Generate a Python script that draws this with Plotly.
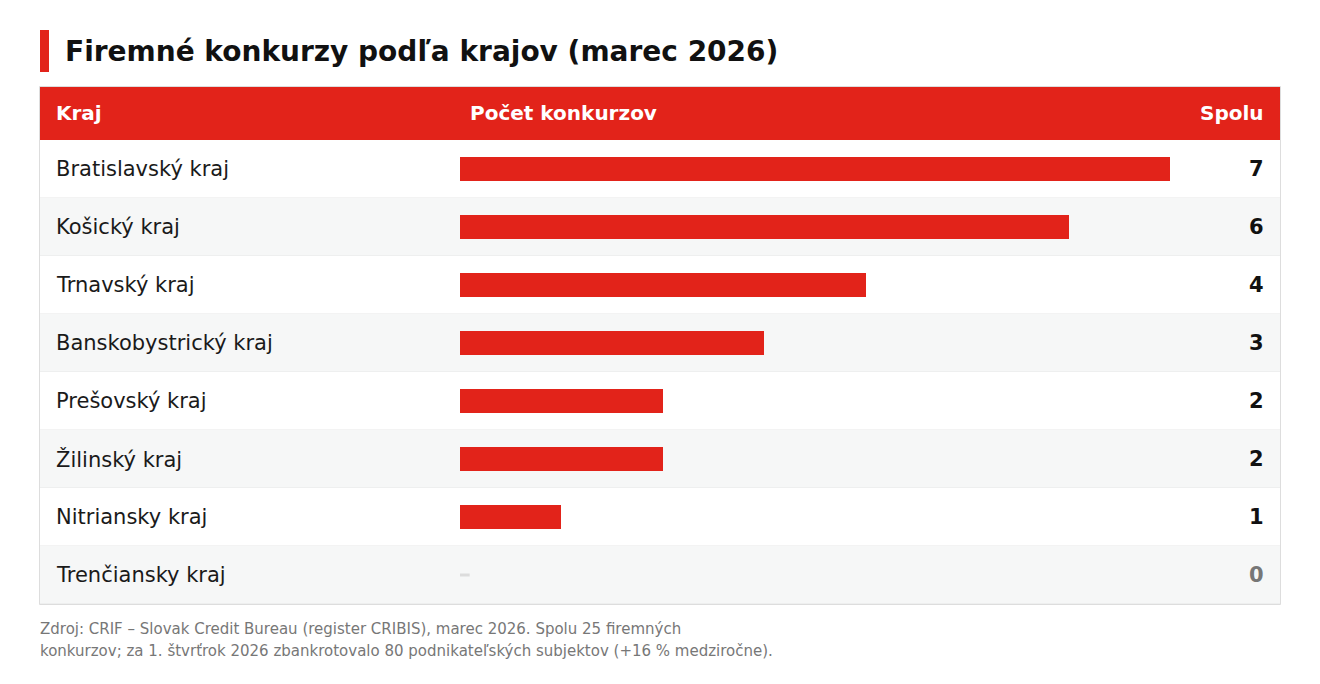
import plotly.graph_objects as go

W, H = 1320, 684

regions = ["Bratislavský kraj", "Košický kraj", "Trnavský kraj", "Banskobystrický kraj",
           "Prešovský kraj", "Žilinský kraj", "Nitriansky kraj", "Trenčiansky kraj"]
counts = [7, 6, 4, 3, 2, 2, 1, 0]

title = "Firemné konkurzy podľa krajov (marec 2026)"
headers = ["Kraj", "Počet konkurzov", "Spolu"]
footer_lines = ["Zdroj: CRIF – Slovak Credit Bureau (register CRIBIS), marec 2026. Spolu 25 firemných",
                "konkurzov; za 1. štvrťrok 2026 zbankrotovalo 80 podnikateľských subjektov (+16 % medziročne)."]

RED = "#e2231a"
FONT = "DejaVu Sans"

def px(x):
    return x / W

def py(y):
    return 1 - y / H

T_LEFT, T_RIGHT = 40, 1280
HEAD_TOP, HEAD_BOT = 87, 140
ROW_H = 58
n = len(regions)
T_BOT = HEAD_BOT + ROW_H * n
BAR_X0, BAR_X7 = 460, 1170

fig = go.Figure()

# bars
pos = [(r, v) for r, v in zip(regions, counts) if v > 0]
fig.add_trace(go.Bar(
    x=[v for _, v in pos], y=[r for r, _ in pos], orientation="h",
    marker=dict(color=RED, line=dict(width=0)), width=24 / ROW_H,
    hoverinfo="x+y", showlegend=False))
zero = [r for r, v in zip(regions, counts) if v == 0]
fig.add_trace(go.Scatter(
    x=[0.04] * len(zero), y=zero, mode="markers",
    marker=dict(symbol="line-ew", size=8, line=dict(width=3, color="#dcdcdc")),
    hoverinfo="skip", showlegend=False))

shapes = []
# title accent
shapes.append(dict(type="rect", xref="paper", yref="paper", x0=px(40), x1=px(49), y0=py(72), y1=py(30),
                   fillcolor=RED, line=dict(width=0), layer="below"))
# row backgrounds
for i in range(n):
    y0 = HEAD_BOT + ROW_H * i
    shapes.append(dict(type="rect", xref="paper", yref="paper", x0=px(T_LEFT), x1=px(T_RIGHT),
                       y0=py(y0 + ROW_H), y1=py(y0),
                       fillcolor="#f6f7f7" if i % 2 == 1 else "#ffffff", line=dict(width=0), layer="below"))
    shapes.append(dict(type="line", xref="paper", yref="paper", x0=px(T_LEFT), x1=px(T_RIGHT),
                       y0=py(y0 + ROW_H), y1=py(y0 + ROW_H),
                       line=dict(color="#e6e6e6", width=1), layer="below"))
# header
shapes.append(dict(type="rect", xref="paper", yref="paper", x0=px(T_LEFT), x1=px(T_RIGHT),
                   y0=py(HEAD_BOT), y1=py(HEAD_TOP), fillcolor=RED, line=dict(width=0), layer="below"))
# table border
shapes.append(dict(type="rect", xref="paper", yref="paper", x0=px(T_LEFT - 0.5), x1=px(T_RIGHT + 0.5),
                   y0=py(T_BOT + 0.5), y1=py(HEAD_TOP - 0.5), fillcolor="rgba(0,0,0,0)",
                   line=dict(color="#dddddd", width=1), layer="above"))

ann = []
ann.append(dict(text=f"<b>{title}</b>", x=px(63), y=py(51), xref="paper", yref="paper",
                xanchor="left", yanchor="middle", showarrow=False,
                font=dict(family=FONT, size=28, color="#111111")))
hy = py((HEAD_TOP + HEAD_BOT) / 2 - 1)
ann.append(dict(text=f"<b>{headers[0]}</b>", x=px(54), y=hy, xref="paper", yref="paper",
                xanchor="left", yanchor="middle", showarrow=False, font=dict(family=FONT, size=20, color="white")))
ann.append(dict(text=f"<b>{headers[1]}</b>", x=px(468), y=hy, xref="paper", yref="paper",
                xanchor="left", yanchor="middle", showarrow=False, font=dict(family=FONT, size=20, color="white")))
ann.append(dict(text=f"<b>{headers[2]}</b>", x=px(1266), y=hy, xref="paper", yref="paper",
                xanchor="right", yanchor="middle", showarrow=False, font=dict(family=FONT, size=20, color="white")))
for i, (r, v) in enumerate(zip(regions, counts)):
    cy = py(HEAD_BOT + ROW_H * i + ROW_H / 2)
    ann.append(dict(text=r, x=px(54), y=cy, xref="paper", yref="paper", xanchor="left", yanchor="middle",
                    showarrow=False, font=dict(family=FONT, size=21, color="#1a1a1a")))
    ann.append(dict(text=f"<b>{v}</b>", x=px(1266), y=cy, xref="paper", yref="paper", xanchor="right",
                    yanchor="middle", showarrow=False,
                    font=dict(family=FONT, size=21, color="#777777" if v == 0 else "#111111")))
for j, line in enumerate(footer_lines):
    ann.append(dict(text=line, x=px(38), y=py(629 + 22 * j), xref="paper", yref="paper", xanchor="left",
                    yanchor="middle", showarrow=False, font=dict(family=FONT, size=15, color="#777777")))

fig.update_layout(
    width=W, height=H, margin=dict(l=0, r=0, t=0, b=0),
    paper_bgcolor="white", plot_bgcolor="rgba(0,0,0,0)",
    shapes=shapes, annotations=ann, bargap=0,
    xaxis=dict(domain=[px(BAR_X0), px(BAR_X7)], range=[0, 7], visible=False, fixedrange=True),
    yaxis=dict(domain=[py(T_BOT), py(HEAD_BOT)], categoryorder="array", categoryarray=regions,
               range=[n - 0.5, -0.5], visible=False, fixedrange=True),
    font=dict(family=FONT),
)

fig.write_html("out.html", config={"displayModeBar": False})
